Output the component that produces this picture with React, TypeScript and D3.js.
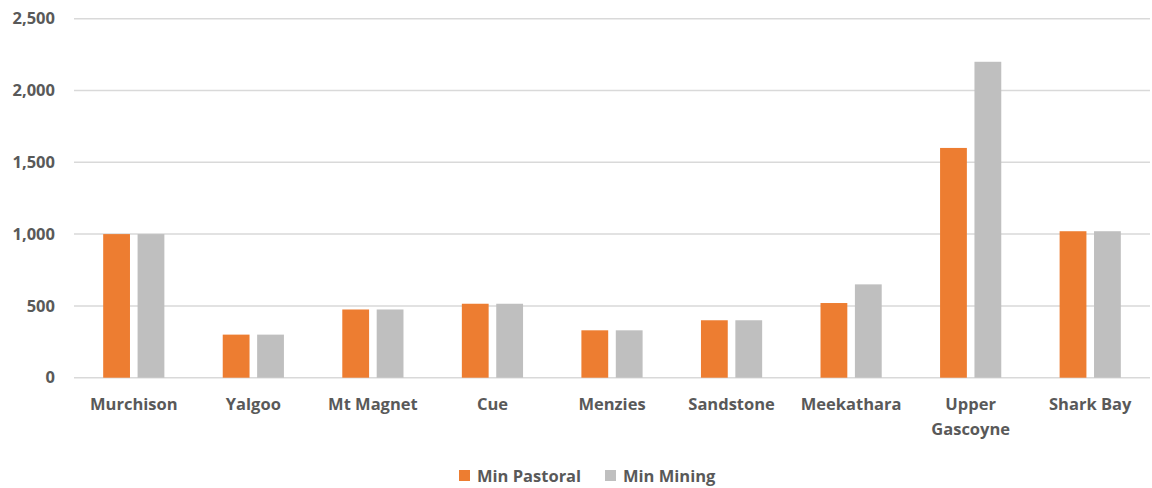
import React from "react";
import * as d3 from "d3";

const categories = ["Murchison", "Yalgoo", "Mt Magnet", "Cue", "Menzies", "Sandstone", "Meekathara", "Upper Gascoyne", "Shark Bay"];
const minPastoral = [1000, 300, 475, 515, 330, 400, 520, 1600, 1020];
const minMining = [1000, 300, 475, 515, 330, 400, 650, 2200, 1020];
const yTicks = [0, 500, 1000, 1500, 2000, 2500];
const seriesNames = ["Min Pastoral", "Min Mining"];
const colors = ["#ED7D31", "#BFBFBF"];

const W = 1152, H = 488;
const left = 74, right = 1150, top = 18.7, bottom = 377.7;
const FONT = "'Open Sans', sans-serif";
const TXT = "#595959";
const FS = 16.5;

export default function App() {
  const x = d3.scaleBand<string>().domain(categories).range([left, right]);
  const y = d3.scaleLinear().domain([0, 2500]).range([bottom, top]);
  const bw = 26.8, gap = 7.6;
  const fmt = d3.format(",");
  const series = [minPastoral, minMining];
  return (
    <svg width={W} height={H} style={{ position: "absolute", left: 0, top: 0 }}>
      <rect width={W} height={H} fill="#fff" />
      {yTicks.map((t) => (
        <g key={t}>
          <line x1={left} x2={right} y1={y(t)} y2={y(t)} stroke="#D9D9D9" strokeWidth={1.5} />
          <text x={55} y={y(t)} dy="0.35em" textAnchor="end" fontFamily={FONT} fontWeight={700} fontSize={FS} fill={TXT}>{fmt(t)}</text>
        </g>
      ))}
      {categories.map((c, i) => {
        const cx = (x(c) as number) + x.bandwidth() / 2;
        return (
          <g key={c}>
            {series.map((s, j) => {
              const bx = j === 0 ? cx - gap / 2 - bw : cx + gap / 2;
              return <rect key={j} x={bx} y={y(s[i])} width={bw} height={y(0) - y(s[i])} fill={colors[j]} />;
            })}
            {c === "Upper Gascoyne" ? (
              <text x={cx} y={410} textAnchor="middle" fontFamily={FONT} fontWeight={700} fontSize={FS} fill={TXT}>
                <tspan x={cx}>Upper</tspan>
                <tspan x={cx} dy={25}>Gascoyne</tspan>
              </text>
            ) : (
              <text x={cx} y={410} textAnchor="middle" fontFamily={FONT} fontWeight={700} fontSize={FS} fill={TXT}>{c}</text>
            )}
          </g>
        );
      })}
      <g>
        {seriesNames.map((n, j) => {
          const lx = j === 0 ? 459 : 605;
          return (
            <g key={n}>
              <rect x={lx} y={470} width={11} height={11} fill={colors[j]} />
              <text x={lx + 18} y={481.5} fontFamily={FONT} fontWeight={700} fontSize={FS} fill={TXT}>{n}</text>
            </g>
          );
        })}
      </g>
    </svg>
  );
}
